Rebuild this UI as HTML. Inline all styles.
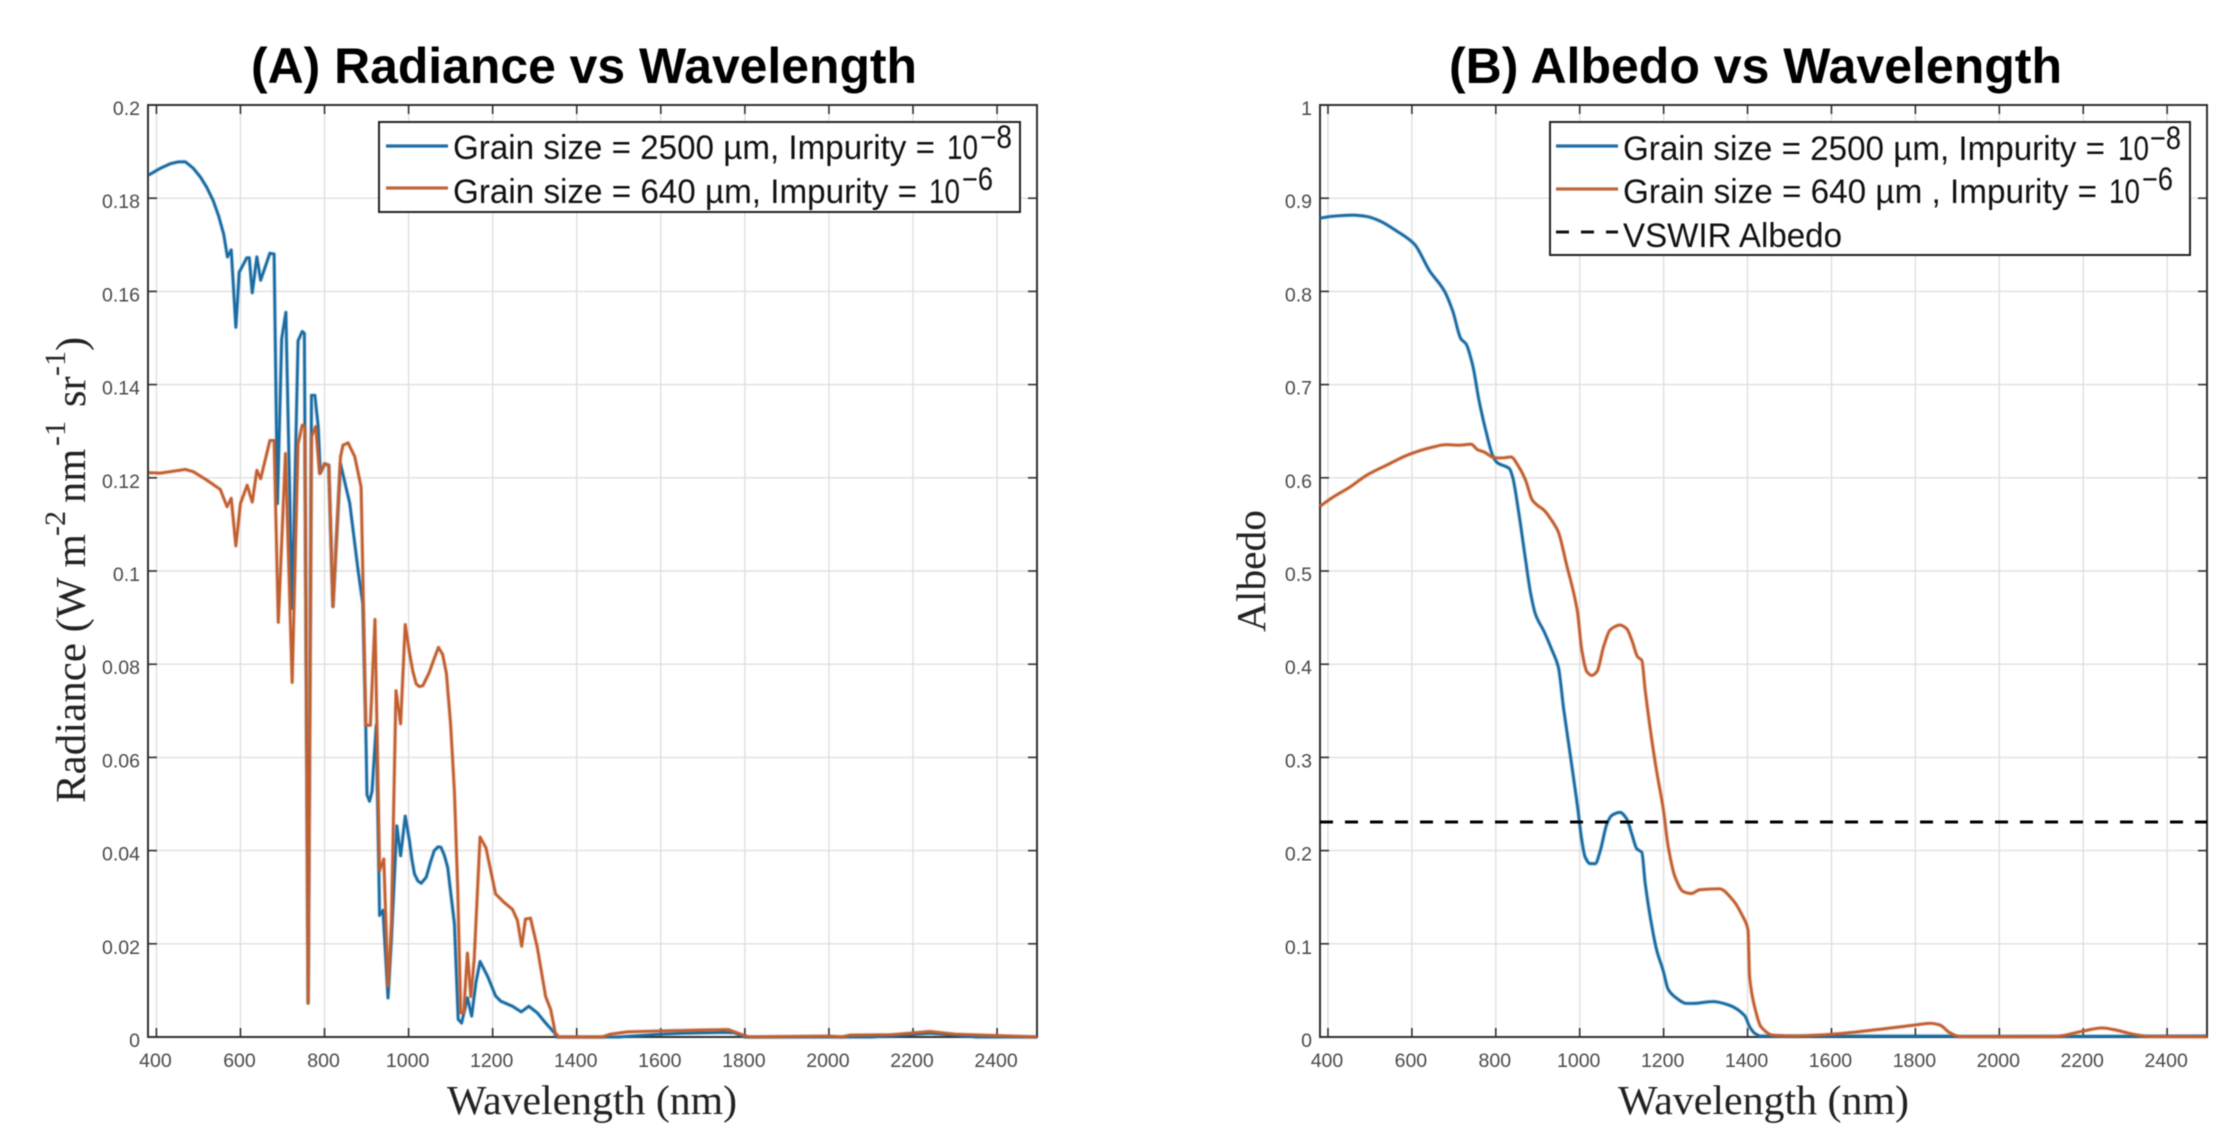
<!DOCTYPE html>
<html lang="en">
<head>
<meta charset="utf-8">
<title>Radiance and Albedo vs Wavelength</title>
<style>
html,body{margin:0;padding:0;background:#fff;width:2238px;height:1148px;overflow:hidden}
svg{display:block;filter:blur(0.55px)}
.sans{font-family:"Liberation Sans",Arial,sans-serif}
.serif{font-family:"Liberation Serif","Times New Roman",serif;fill:#222}
.title{font-weight:700;font-size:50px;fill:#000}
.leg{font-size:34px;fill:#111}
.sup{font-size:32px;fill:#111}
.tick{font-size:19.5px;fill:#4a4a4a}
</style>
</head>
<body>
<svg id="figure" xmlns="http://www.w3.org/2000/svg" width="2238" height="1148" viewBox="0 0 2238 1148">
  <rect width="2238" height="1148" fill="#fff"/>

  <g id="panelA"></g>
  <g id="panelB"></g>

  <text class="sans title" x="251" y="83" textLength="666" lengthAdjust="spacingAndGlyphs">(A) Radiance vs Wavelength</text>
  <text class="sans title" x="1449" y="83" textLength="613" lengthAdjust="spacingAndGlyphs">(B) Albedo vs Wavelength</text>

  <text class="serif" font-size="41" x="447" y="1114" textLength="290" lengthAdjust="spacingAndGlyphs">Wavelength (nm)</text>
  <text class="serif" font-size="41" x="1618" y="1114" textLength="291" lengthAdjust="spacingAndGlyphs">Wavelength (nm)</text>

  <g transform="translate(85,803) rotate(-90)" class="serif">
    <text x="0" y="0" font-size="42.5" textLength="269" lengthAdjust="spacingAndGlyphs">Radiance (W m</text>
    <text x="267" y="-20" font-size="30">-2</text>
    <text x="300" y="0" font-size="42.5">nm</text>
    <text x="357" y="-20" font-size="30">-1</text>
    <text x="396" y="0" font-size="42.5">sr</text>
    <text x="427" y="-20" font-size="30">-1</text>
    <text x="452" y="0" font-size="42.5">)</text>
  </g>
  <text class="serif" font-size="41.5" transform="translate(1265,632) rotate(-90)" textLength="122" lengthAdjust="spacingAndGlyphs">Albedo</text>

  <g id="legendA">
    <rect x="379" y="122" width="641" height="90" fill="#fff" stroke="#222" stroke-width="2"/>
    <line x1="386" x2="448" y1="146" y2="146" stroke="#1f6fa6" stroke-width="3.2"/>
    <text class="sans leg" x="453" y="159" textLength="482" lengthAdjust="spacingAndGlyphs">Grain size = 2500 µm, Impurity =</text>
    <text class="sans leg" x="947" y="159" textLength="31" lengthAdjust="spacingAndGlyphs">10</text>
    <text class="sans sup" x="980" y="148" textLength="32" lengthAdjust="spacingAndGlyphs">−8</text>
    <line x1="386" x2="448" y1="188" y2="188" stroke="#c0653a" stroke-width="3.2"/>
    <text class="sans leg" x="453" y="203" textLength="464" lengthAdjust="spacingAndGlyphs">Grain size = 640 µm, Impurity =</text>
    <text class="sans leg" x="929" y="203" textLength="31" lengthAdjust="spacingAndGlyphs">10</text>
    <text class="sans sup" x="962" y="190" textLength="31" lengthAdjust="spacingAndGlyphs">−6</text>
  </g>

  <g id="legendB">
    <rect x="1550" y="122" width="640" height="133" fill="#fff" stroke="#222" stroke-width="2"/>
    <line x1="1556" x2="1618" y1="146" y2="146" stroke="#1f6fa6" stroke-width="3.2"/>
    <text class="sans leg" x="1623" y="160" textLength="482" lengthAdjust="spacingAndGlyphs">Grain size = 2500 µm, Impurity =</text>
    <text class="sans leg" x="2118" y="160" textLength="31" lengthAdjust="spacingAndGlyphs">10</text>
    <text class="sans sup" x="2150" y="149" textLength="31" lengthAdjust="spacingAndGlyphs">−8</text>
    <line x1="1556" x2="1618" y1="189" y2="189" stroke="#c0653a" stroke-width="3.2"/>
    <text class="sans leg" x="1623" y="203" textLength="474" lengthAdjust="spacingAndGlyphs">Grain size = 640 µm , Impurity =</text>
    <text class="sans leg" x="2109" y="203" textLength="31" lengthAdjust="spacingAndGlyphs">10</text>
    <text class="sans sup" x="2142" y="190" textLength="31" lengthAdjust="spacingAndGlyphs">−6</text>
    <line x1="1556" x2="1618" y1="232" y2="232" stroke="#111" stroke-width="3" stroke-dasharray="13 12"/>
    <text class="sans leg" x="1623" y="247" textLength="219" lengthAdjust="spacingAndGlyphs">VSWIR Albedo</text>
  </g>
</svg>

<script>
// ---- Shared tick values ----
const xTicks = [400, 600, 800, 1000, 1200, 1400, 1600, 1800, 2000, 2200, 2400];
const yTicksA = [0, 0.02, 0.04, 0.06, 0.08, 0.1, 0.12, 0.14, 0.16, 0.18, 0.2];
const yTicksB = [0, 0.1, 0.2, 0.3, 0.4, 0.5, 0.6, 0.7, 0.8, 0.9, 1];

// ---- Panel A: radiance, grain 2500 um ----
const radBlueWl = [382,409,433,453,469,488,505,520,535,548,560,569,578,589,597,615,621,628,639,648,670,680,688,698,708,723,737,747,752,761,769,777,785,790,800,810,820,838,860,880,891,898,901,907,913,923,931,939,951,959,972,981,992,1002,1008,1014,1022,1030,1042,1052,1061,1070,1077,1085,1093,1109,1118,1126,1140,1150,1160,1170,1188,1207,1219,1247,1268,1286,1306,1326,1347,1352,1500,1600,1650,1750,1775,1800,2100,2180,2240,2300,2350,2495];
const radBlueVal = [.185,.1864,.1874,.1878,.1878,.1864,.1845,.1823,.1795,.1762,.1723,.1674,.1689,.1523,.1641,.1672,.1672,.1597,.1674,.1624,.1682,.168,.1145,.1498,.1555,.092,.1494,.1514,.151,.0073,.1377,.1377,.1309,.121,.123,.1227,.0924,.123,.1145,.1,.093,.0669,.052,.0506,.0527,.0669,.0261,.0272,.0084,.0208,.0453,.0389,.0474,.0421,.038,.035,.0335,.033,.0343,.0375,.04,.0408,.0407,.039,.0364,.0243,.0038,.003,.0084,.0045,.0116,.0162,.013,.0088,.0077,.0066,.0054,.0066,.0052,.003,.0009,0,0,.0006,.0008,.001,.0009,0,0,.0004,.0008,.0004,0,0];

// ---- Panel A: radiance, grain 640 um ----
const radOrangeWl = [382,409,469,488,520,552,568,578,589,600,616,628,639,648,670,680,690,707,723,737,747,753,761,769,779,788,800,810,820,838,844,856,872,887,891,898,909,920,931,941,951,959,970,981,992,1002,1010,1018,1025,1034,1049,1060,1071,1081,1090,1100,1109,1117,1124,1131,1140,1148,1156,1170,1184,1207,1227,1247,1259,1269,1278,1290,1306,1326,1338,1349,1357,1460,1480,1520,1600,1700,1760,1790,1810,2000,2030,2050,2150,2240,2300,2400,2495];
const radOrangeVal = [.1211,.121,.1218,.1213,.1195,.1175,.1138,.1156,.1054,.1145,.1184,.1148,.1216,.1198,.128,.128,.089,.1252,.0761,.1273,.1313,.131,.0073,.1288,.131,.1209,.123,.1227,.0924,.1245,.127,.1275,.1245,.118,.1,.0669,.0669,.0896,.0357,.0382,.0109,.0243,.0743,.0672,.0885,.0825,.0785,.0758,.0752,.0754,.0782,.081,.0836,.0821,.078,.067,.0527,.0314,.0052,.0052,.018,.0087,.0166,.0429,.0406,.0307,.0289,.0274,.025,.0195,.0253,.0255,.0193,.0087,.0059,.0009,0,0,.0006,.0011,.0013,.0015,.0016,.0006,0,.0002,0,.0004,.0005,.0012,.0006,.0003,0];

// ---- Panel B: albedo, grain 2500 um ----
const albBlueWl = [381,413,460,492,523,563,606,642,677,697,717,729,745,760,776,794,804,832,840,855,871,883,895,915,934,949,962,978,994,1005,1013,1025,1037,1049,1065,1077,1096,1112,1124,1136,1148,1156,1168,1183,1199,1211,1227,1255,1270,1318,1357,1393,1405,1417,1432,1460,1880,1910,2495];
const albBlueVal = [.8786,.8807,.8818,.8804,.8757,.865,.8507,.8222,.8008,.7794,.749,.7437,.7205,.683,.651,.6223,.616,.61,.601,.5617,.5117,.476,.453,.435,.415,.397,.351,.301,.25,.211,.193,.186,.186,.2,.229,.238,.241,.234,.218,.202,.198,.165,.129,.094,.071,.051,.043,.036,.036,.038,.034,.023,.011,.004,.001,.001,.001,.0005,.001];

// ---- Panel B: albedo, grain 640 um ----
const albOrangeWl = [381,413,452,492,539,594,650,681,713,741,757,772,796,816,836,855,871,887,899,915,938,949,968,994,1005,1017,1029,1041,1057,1073,1096,1112,1124,1138,1148,1156,1172,1183,1199,1211,1227,1247,1266,1286,1333,1365,1389,1401,1405,1417,1432,1460,1507,1602,1700,1800,1835,1858,1882,1906,2000,2130,2200,2245,2273,2320,2360,2495];
const albOrangeVal = [.5695,.5795,.59,.6027,.6134,.6252,.633,.6355,.635,.636,.63,.6277,.6216,.6213,.6224,.6116,.5974,.576,.5706,.5652,.551,.542,.508,.458,.415,.392,.388,.392,.419,.437,.442,.438,.426,.408,.404,.372,.318,.286,.245,.204,.172,.156,.154,.158,.159,.147,.129,.115,.064,.032,.011,.002,.001,.003,.0075,.0129,.0147,.0129,.0046,.0004,.0003,.0003,.0064,.0097,.0079,.0029,.0004,.0002];

// ---- Panel B: VSWIR reference ----
const vswirAlbedo = [0.2307];

const SVG_NS = 'http://www.w3.org/2000/svg';

function make(tag, parent) {
  const el = document.createElementNS(SVG_NS, tag);
  parent.appendChild(el);
  return el;
}

function linearScale(d0, d1, r0, r1) {
  return function (v) { return r0 + (v - d0) * (r1 - r0) / (d1 - d0); };
}

function straightPath(wl, val, sx, sy) {
  let d = '';
  for (let i = 0; i < wl.length; i++) {
    d += (i ? 'L' : 'M') + sx(wl[i]).toFixed(2) + ' ' + sy(val[i]).toFixed(2);
  }
  return d;
}

// Monotone cubic through the data: smooth without overshooting the readings.
function smoothPath(wl, val, sx, sy) {
  const xs = wl.map(sx);
  const ys = val.map(sy);
  const n = xs.length;
  const slopes = [];
  for (let i = 0; i < n - 1; i++) {
    slopes.push((ys[i + 1] - ys[i]) / (xs[i + 1] - xs[i]));
  }
  const tangents = [slopes[0]];
  for (let i = 1; i < n - 1; i++) {
    if (slopes[i - 1] * slopes[i] <= 0) {
      tangents.push(0);
    } else {
      tangents.push(2 * slopes[i - 1] * slopes[i] / (slopes[i - 1] + slopes[i]));
    }
  }
  tangents.push(slopes[n - 2]);
  let d = 'M' + xs[0].toFixed(2) + ' ' + ys[0].toFixed(2);
  for (let i = 0; i < n - 1; i++) {
    const h = (xs[i + 1] - xs[i]) / 3;
    d += 'C' + (xs[i] + h).toFixed(2) + ' ' + (ys[i] + tangents[i] * h).toFixed(2) + ' ' +
      (xs[i + 1] - h).toFixed(2) + ' ' + (ys[i + 1] - tangents[i + 1] * h).toFixed(2) + ' ' +
      xs[i + 1].toFixed(2) + ' ' + ys[i + 1].toFixed(2);
  }
  return d;
}

function drawPanel(root, box, xDomain, yDomain, yTicks, series, buildPath) {
  const sx = linearScale(xDomain[0], xDomain[1], box.left, box.right);
  const sy = linearScale(yDomain[0], yDomain[1], box.bottom, box.top);

  xTicks.forEach(function (t) {
    const g = make('line', root);
    
    
    g.setAttribute('x1', sx(t)); g.setAttribute('x2', sx(t));
    g.setAttribute('y1', box.top); g.setAttribute('y2', box.bottom);
    g.setAttribute('stroke', '#e0e0e0'); g.setAttribute('stroke-width', '1.4');
  });
  yTicks.forEach(function (t) {
    if (t === yDomain[0] || t === yDomain[1]) return;
    const g = make('line', root);
    
    
    g.setAttribute('x1', box.left); g.setAttribute('x2', box.right);
    g.setAttribute('y1', sy(t)); g.setAttribute('y2', sy(t));
    g.setAttribute('stroke', '#e0e0e0'); g.setAttribute('stroke-width', '1.4');
  });

  const frame = make('path', root);
  
  
  frame.setAttribute('d', 'M' + box.left + ' ' + box.top + 'H' + box.right + 'V' + box.bottom + 'H' + box.left + 'Z');
  frame.setAttribute('fill', 'none');
  frame.setAttribute('stroke', '#303030');
  frame.setAttribute('stroke-width', '2');

  xTicks.forEach(function (t) {
    [[box.bottom, box.bottom - 9], [box.top, box.top + 9]].forEach(function (p) {
      const m = make('line', root);
      
      
      m.setAttribute('x1', sx(t)); m.setAttribute('x2', sx(t));
      m.setAttribute('y1', p[0]); m.setAttribute('y2', p[1]);
      m.setAttribute('stroke', '#303030'); m.setAttribute('stroke-width', '1.6');
    });
    const label = make('text', root);
    
    
    label.setAttribute('class', 'sans tick');
    label.setAttribute('x', sx(t) - 1);
    label.setAttribute('y', box.bottom + 30);
    label.setAttribute('text-anchor', 'middle');
    label.textContent = String(t);
  });

  yTicks.forEach(function (t) {
    [[box.left, box.left + 9], [box.right, box.right - 9]].forEach(function (p) {
      const m = make('line', root);
      
      
      m.setAttribute('x1', p[0]); m.setAttribute('x2', p[1]);
      m.setAttribute('y1', sy(t)); m.setAttribute('y2', sy(t));
      m.setAttribute('stroke', '#303030'); m.setAttribute('stroke-width', '1.6');
    });
    const label = make('text', root);
    
    
    label.setAttribute('class', 'sans tick');
    label.setAttribute('x', box.left - 8);
    label.setAttribute('y', sy(t) + 10);
    label.setAttribute('text-anchor', 'end');
    label.textContent = String(t);
  });

  series.forEach(function (s) {
    const halo = make('path', root);
    
    
    halo.setAttribute('d', buildPath(s.wl, s.val, sx, sy));
    halo.setAttribute('fill', 'none');
    halo.setAttribute('stroke', s.color);
    halo.setAttribute('stroke-opacity', '0.22');
    halo.setAttribute('stroke-width', '4.6');
    halo.setAttribute('stroke-linejoin', 'round');
    const line = make('path', root);
    
    
    line.setAttribute('d', buildPath(s.wl, s.val, sx, sy));
    line.setAttribute('fill', 'none');
    line.setAttribute('stroke', s.color);
    line.setAttribute('stroke-width', '2.7');
    line.setAttribute('stroke-linejoin', 'round');
  });

  return { sx: sx, sy: sy };
}

const BLUE = '#1a6ca3';
const ORANGE = '#c25f30';

drawPanel(document.getElementById('panelA'),
  { left: 148, right: 1037, top: 105, bottom: 1037 },
  [380, 2495], [0, 0.2], yTicksA,
  [
    { name: 'radiance-series-large-grain', wl: radBlueWl, val: radBlueVal, color: BLUE },
    { name: 'radiance-series-small-grain', wl: radOrangeWl, val: radOrangeVal, color: ORANGE }
  ], straightPath);

const scalesB = drawPanel(document.getElementById('panelB'),
  { left: 1320, right: 2207, top: 105, bottom: 1037 },
  [381, 2495], [0, 1], yTicksB,
  [
    { name: 'albedo-series-large-grain', wl: albBlueWl, val: albBlueVal, color: BLUE },
    { name: 'albedo-series-small-grain', wl: albOrangeWl, val: albOrangeVal, color: ORANGE }
  ], smoothPath);

vswirAlbedo.forEach(function (v) {
  const ref = make('line', document.getElementById('panelB'));
  
  
  ref.setAttribute('x1', scalesB.sx(381));
  ref.setAttribute('x2', scalesB.sx(2495));
  ref.setAttribute('y1', scalesB.sy(v));
  ref.setAttribute('y2', scalesB.sy(v));
  ref.setAttribute('stroke', '#000');
  ref.setAttribute('stroke-width', '3');
  ref.setAttribute('stroke-dasharray', '13 12');
});
</script>
</body>
</html>
